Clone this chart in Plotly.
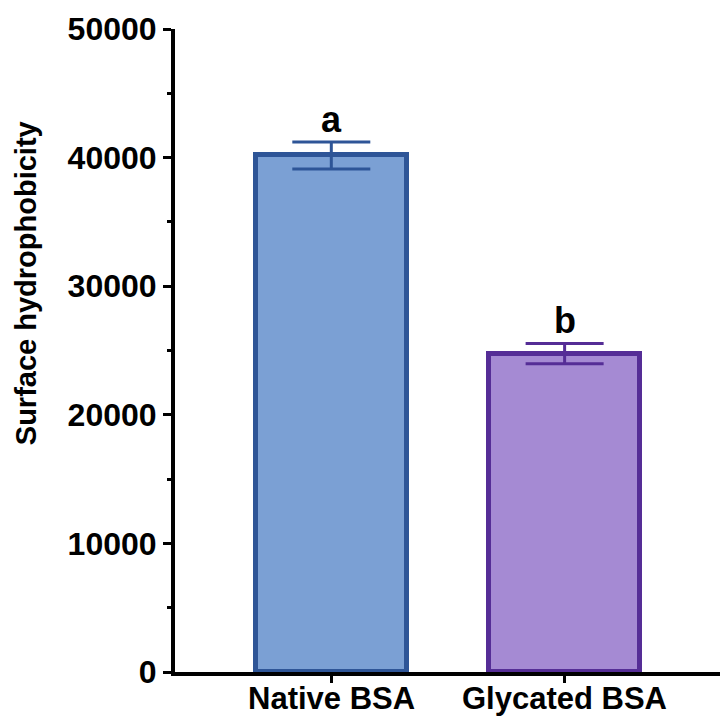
import plotly.graph_objects as go

categories = ["Native BSA", "Glycated BSA"]
means = [40170, 24760]
errors = [1050, 790]
letters = ["a", "b"]
fill_colors = ["#7BA0D4", "#A58AD3"]
line_colors = ["#2E5597", "#552D96"]
y_ticks = [0, 10000, 20000, 30000, 40000, 50000]

FONT = "Liberation Sans, Arial, sans-serif"

fig = go.Figure()
for i, cat in enumerate(categories):
    fig.add_trace(go.Bar(
        x=[cat], y=[means[i]],
        width=0.645,
        marker=dict(color=fill_colors[i], line=dict(color=line_colors[i], width=5)),
        error_y=dict(type="data", array=[errors[i]], symmetric=True,
                     color=line_colors[i], thickness=3, width=39),
        showlegend=False,
    ))
    fig.add_annotation(x=cat, y=means[i] + errors[i], text=letters[i],
                       showarrow=False, yanchor="bottom", yshift=0,
                       font=dict(family=FONT, size=36, color="black", weight="bold"))
    # category label below the axis
    fig.add_annotation(x=cat, yref="paper", y=0, text=cat,
                       showarrow=False, yanchor="top", yshift=-7,
                       font=dict(family=FONT, size=31, color="black", weight="bold"))

fig.add_annotation(xref="paper", yref="paper", x=-0.273, y=0.605,
                   text="Surface hydrophobicity", textangle=-90, showarrow=False,
                   xanchor="center", yanchor="middle",
                   font=dict(family=FONT, size=29, color="black", weight="bold"))

fig.update_layout(
    width=720, height=719,
    margin=dict(l=175, r=0, t=29, b=47),
    plot_bgcolor="white", paper_bgcolor="white",
    bargap=0,
    xaxis=dict(
        range=[-0.67, 1.666], showgrid=False, zeroline=False, automargin=False,
        showline=True, linecolor="black", linewidth=4,
        ticks="outside", ticklen=7, tickwidth=3, tickcolor="black",
        showticklabels=False,
    ),
    yaxis=dict(
        range=[0, 50000], showgrid=False, zeroline=False, automargin=False,
        showline=True, linecolor="black", linewidth=4,
        tickvals=y_ticks, ticktext=[str(v) for v in y_ticks],
        ticks="outside", ticklen=8, tickwidth=3, tickcolor="black",
        minor=dict(dtick=5000, ticks="outside", ticklen=4, tickwidth=3, tickcolor="black"),
        tickfont=dict(family=FONT, size=32, color="black", weight="bold"),
    ),
)

fig.write_html("out.html")
